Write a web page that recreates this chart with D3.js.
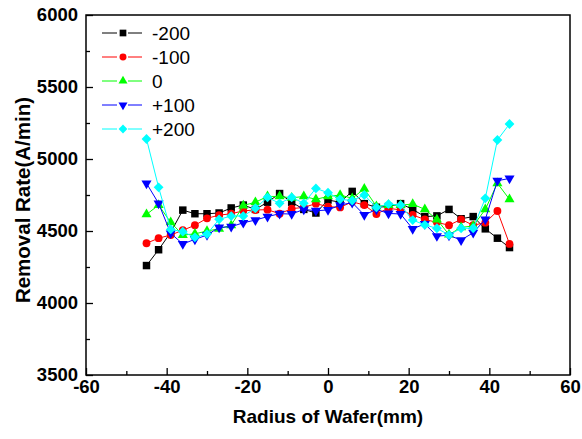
<!DOCTYPE html>
<html>
<head>
<meta charset="utf-8">
<script src="https://cdn.jsdelivr.net/npm/d3@7"></script>
<style>
  body { margin: 0; background: #fff; }
  svg { display: block; font-family: "Liberation Sans", Arial, sans-serif; }
</style>
</head>
<body>
<svg id="chart" width="582" height="439"></svg>
<script>
// Radius positions (mm)
const radius = [-45, -42, -39, -36, -33, -30, -27, -24, -21, -18, -15, -12, -9, -6, -3, 0,
  3, 6, 9, 12, 15, 18, 21, 24, 27, 30, 33, 36, 39, 42, 45];

// Removal rate (A/min) per setting
const rateM200 = [4260, 4370, 4490, 4645, 4620, 4620, 4625, 4660, 4680, 4650, 4700, 4760, 4700, 4650, 4625, 4715,
  4700, 4775, 4690, 4665, 4670, 4690, 4650, 4600, 4605, 4650, 4585, 4600, 4515, 4450, 4385];
const rateM100 = [4415, 4450, 4472, 4505, 4540, 4588, 4610, 4620, 4640, 4646, 4648, 4620, 4655, 4664, 4690, 4669,
  4664, 4703, 4680, 4618, 4658, 4646, 4611, 4580, 4560, 4540, 4581, 4540, 4558, 4639, 4410];
const rate0 = [4615, 4680, 4560, 4472, 4480, 4500, 4515, 4540, 4677, 4700, 4740, 4740, 4730, 4740, 4720, 4740,
  4750, 4727, 4793, 4672, 4680, 4680, 4687, 4650, 4580, 4475, 4525, 4535, 4650, 4831, 4720];
const rateP100 = [4831, 4692, 4484, 4410, 4442, 4472, 4525, 4530, 4557, 4576, 4600, 4620, 4618, 4650, 4641, 4646,
  4680, 4697, 4611, 4650, 4622, 4618, 4515, 4549, 4465, 4470, 4437, 4488, 4581, 4849, 4865];
const rateP200 = [5139, 4803, 4511, 4495, 4456, 4479, 4581, 4604, 4604, 4658, 4734, 4692, 4734, 4692, 4796, 4766,
  4720, 4711, 4750, 4664, 4687, 4680, 4576, 4542, 4519, 4472, 4519, 4519, 4727, 5132, 5243];

const seriesNames = ["-200", "-100", "0", "+100", "+200"];
const xTicks = [-60, -40, -20, 0, 20, 40, 60];
const xMinor = [-50, -30, -10, 10, 30, 50];
const yTicks = [3500, 4000, 4500, 5000, 5500, 6000];
const yMinor = [3750, 4250, 4750, 5250, 5750];

const series = [
  { name: seriesNames[0], values: rateM200, color: "#000000", symbol: d3.symbolSquare, size: 56, rotate: 0 },
  { name: seriesNames[1], values: rateM100, color: "#ff0000", symbol: d3.symbolCircle, size: 48, rotate: 0 },
  { name: seriesNames[2], values: rate0, color: "#00ff00", symbol: d3.symbolTriangle, size: 44, rotate: 0 },
  { name: seriesNames[3], values: rateP100, color: "#0000ff", symbol: d3.symbolTriangle, size: 44, rotate: 180 },
  { name: seriesNames[4], values: rateP200, color: "#00ffff", symbol: d3.symbolSquare, size: 48, rotate: 45 }
];

const margin = { top: 15, right: 12, bottom: 64, left: 86 };
const svg = d3.select("#chart");
const width = +svg.attr("width"), height = +svg.attr("height");
const innerWidth = width - margin.left - margin.right;
const innerHeight = height - margin.top - margin.bottom;

const g = svg.append("g").attr("transform", `translate(${margin.left},${margin.top})`);

const x = d3.scaleLinear().domain([-60, 60]).range([0, innerWidth]);
const y = d3.scaleLinear().domain([3500, 6000]).range([innerHeight, 0]);

const plain = d => String(d);

// Axes (ticks pointing inward)
g.append("g")
  .attr("transform", `translate(0,${innerHeight})`)
  .call(d3.axisBottom(x).tickValues(xTicks).tickSize(-7).tickSizeOuter(0).tickPadding(5).tickFormat(plain));
g.append("g")
  .attr("class", "minor")
  .attr("transform", `translate(0,${innerHeight})`)
  .call(d3.axisBottom(x).tickValues(xMinor).tickSize(-4).tickSizeOuter(0));

g.append("g")
  .call(d3.axisLeft(y).tickValues(yTicks).tickSize(-7).tickSizeOuter(0).tickPadding(8).tickFormat(plain));
g.append("g")
  .attr("class", "minor")
  .call(d3.axisLeft(y).tickValues(yMinor).tickSize(-4).tickSizeOuter(0));

g.selectAll(".minor text").remove();
g.selectAll(".domain").remove();
g.selectAll(".tick line").attr("stroke", "#000").attr("stroke-width", 1.3);
g.selectAll(".tick text")
  .attr("fill", "#000")
  .style("font-size", "18.5px")
  .style("font-weight", "bold");

// Frame
g.append("rect")
  .attr("width", innerWidth)
  .attr("height", innerHeight)
  .attr("fill", "none")
  .attr("stroke", "#000")
  .attr("stroke-width", 1.5);

// Axis titles
svg.append("text")
  .attr("x", margin.left + innerWidth / 2)
  .attr("y", 423)
  .attr("text-anchor", "middle")
  .style("font-size", "19px")
  .style("font-weight", "bold")
  .text("Radius of Wafer(mm)");

svg.append("text")
  .attr("transform", `translate(30,${margin.top + innerHeight / 2 + 5}) rotate(-90)`)
  .attr("text-anchor", "middle")
  .style("font-size", "20.5px")
  .style("font-weight", "bold")
  .text("Removal Rate(A/min)");

// Series lines and markers
const line = d3.line().x((d, i) => x(radius[i])).y(d => y(d));

series.forEach(s => {
  g.append("path")
    .datum(s.values)
    .attr("fill", "none")
    .attr("stroke", s.color)
    .attr("stroke-width", 1)
    .attr("d", line);

  g.append("g").selectAll("path")
    .data(s.values)
    .join("path")
    .attr("transform", (d, i) => `translate(${x(radius[i])},${y(d)}) rotate(${s.rotate})`)
    .attr("d", d3.symbol(s.symbol, s.size))
    .attr("fill", s.color);
});

// Legend
const legend = svg.append("g").attr("transform", "translate(102,33)");
series.forEach((s, i) => {
  const row = legend.append("g").attr("transform", `translate(0,${i * 24})`);
  row.append("line").attr("x1", 0).attr("x2", 15).attr("stroke", s.color).attr("stroke-width", 1);
  row.append("line").attr("x1", 26).attr("x2", 40).attr("stroke", s.color).attr("stroke-width", 1);
  row.append("path")
    .attr("transform", `translate(21,0) rotate(${s.rotate})`)
    .attr("d", d3.symbol(s.symbol, s.size * 0.8))
    .attr("fill", s.color);
  row.append("text")
    .attr("x", 50)
    .attr("dy", "0.36em")
    .style("font-size", "19px")
    .text(s.name);
});
</script>
</body>
</html>
